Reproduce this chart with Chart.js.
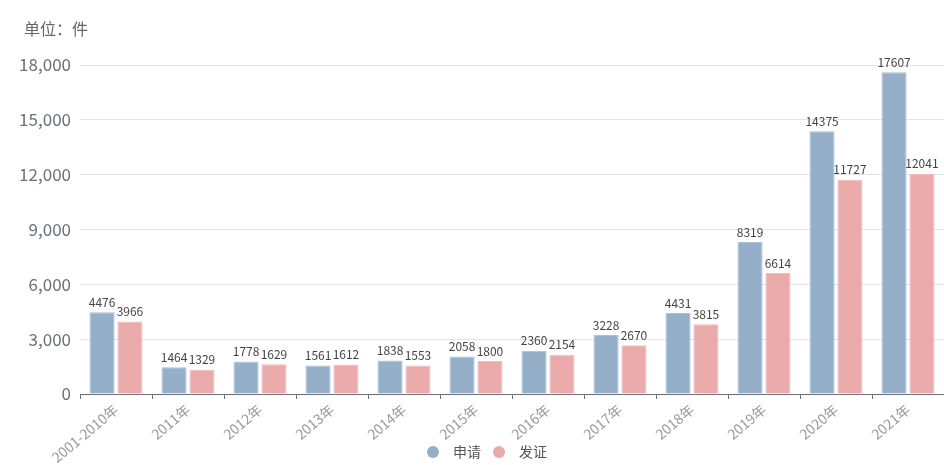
<!DOCTYPE html>
<html>
<head>
<meta charset="utf-8">
<script src="https://cdn.jsdelivr.net/npm/chart.js@4/dist/chart.umd.min.js"></script>
<style>
html,body{margin:0;padding:0;background:#fff;}
#wrap{width:944px;height:465px;position:relative;}
</style>
</head>
<body>
<div id="wrap"><canvas id="c" width="944" height="465"></canvas></div>
<script>
const categories = ['2001-2010年','2011年','2012年','2013年','2014年','2015年','2016年','2017年','2018年','2019年','2020年','2021年'];
const applyValues = [4476,1464,1778,1561,1838,2058,2360,3228,4431,8319,14375,17607];
const grantValues = [3966,1329,1629,1612,1553,1800,2154,2670,3815,6614,11727,12041];
const seriesNames = ['申请','发证'];
const unitText = '单位：件';

const FONT = "'Noto Sans CJK SC','Noto Sans',sans-serif";

const extras = {
  id: 'extras',
  afterDatasetsDraw(chart) {
    const ctx = chart.ctx;
    ctx.save();
    ctx.font = '12px ' + FONT;
    ctx.fillStyle = '#444';
    ctx.textAlign = 'center';
    ctx.textBaseline = 'bottom';
    chart.data.datasets.forEach((ds, i) => {
      const meta = chart.getDatasetMeta(i);
      meta.data.forEach((bar, j) => {
        ctx.fillText(String(ds.data[j]), bar.x, bar.y - 4);
      });
    });
    ctx.restore();
  },
  afterDraw(chart) {
    const ctx = chart.ctx;
    ctx.save();
    // unit text
    ctx.font = '16px ' + FONT;
    ctx.fillStyle = '#666';
    ctx.textAlign = 'left';
    ctx.textBaseline = 'middle';
    ctx.fillText(unitText, 24, 29);
    // legend
    ctx.font = '14px ' + FONT;
    const items = chart.data.datasets.map(d => ({text: d.label, color: d.backgroundColor}));
    const r = 6, gapCT = 14, gapItems = 12;
    let total = 0;
    const widths = items.map(it => ctx.measureText(it.text).width);
    items.forEach((it, i) => { total += 2*r + gapCT + widths[i]; });
    total += gapItems * (items.length - 1);
    let x = 487 - total/2;
    const y = 452;
    items.forEach((it, i) => {
      ctx.beginPath();
      ctx.fillStyle = it.color;
      ctx.arc(x + r, y, r, 0, Math.PI*2);
      ctx.fill();
      x += 2*r + gapCT;
      ctx.fillStyle = '#555';
      ctx.textAlign = 'left';
      ctx.fillText(it.text, x, y);
      x += widths[i] + gapItems;
    });
    ctx.restore();
  }
};

new Chart(document.getElementById('c'), {
  type: 'bar',
  data: {
    labels: categories,
    datasets: [
      {label: seriesNames[0], data: applyValues, backgroundColor: '#95afc9', borderColor: '#a9c0d6', borderWidth: 1},
      {label: seriesNames[1], data: grantValues, backgroundColor: '#ebaaaa', borderColor: '#f1bcbc', borderWidth: 1}
    ]
  },
  options: {
    responsive: false,
    animation: false,
    devicePixelRatio: 1,
    layout: {padding: {top: 65, right: 0, bottom: 0, left: 0}},
    datasets: {bar: {categoryPercentage: 0.775, barPercentage: 0.9}},
    plugins: {
      legend: {display: false},
      title: {display: false},
      tooltip: {enabled: false}
    },
    scales: {
      x: {
        offset: true,
        grid: {offset: true, drawOnChartArea: false, drawTicks: true, tickLength: 5, color: '#6e7079'},
        border: {display: true, color: '#6e7079', width: 1},
        ticks: {color: '#9a9a9a', font: {size: 14, family: FONT}, minRotation: 40, maxRotation: 40, autoSkip: false, padding: 2},
        afterFit(scale) { scale.height = 71; }
      },
      y: {
        min: 0, max: 18000,
        ticks: {stepSize: 3000, color: '#6e7079', font: {size: 17, family: FONT}, padding: 9},
        grid: {color: '#e0e6f1', drawTicks: false},
        border: {display: false},
        afterFit(scale) { scale.width = 80; }
      }
    }
  },
  plugins: [extras]
});
</script>
</body>
</html>
